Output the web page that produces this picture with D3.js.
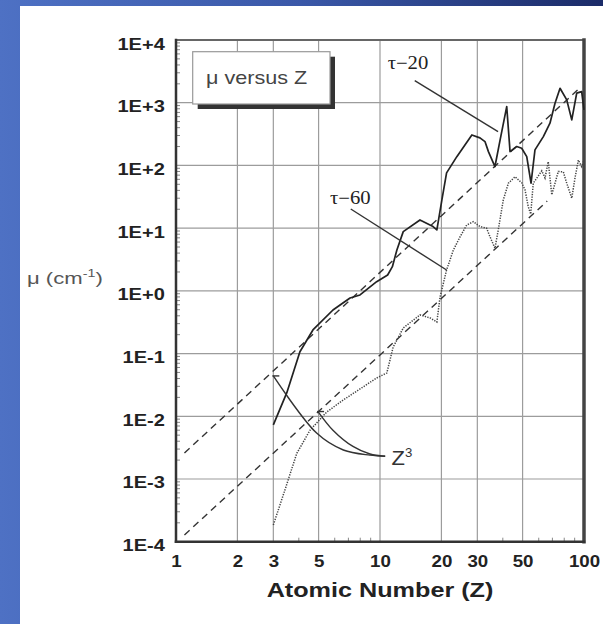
<!DOCTYPE html>
<html>
<head>
<meta charset="utf-8">
<script src="https://cdn.jsdelivr.net/npm/d3@7"></script>
<style>
  body { margin: 0; background: #fff; }
  svg { display: block; }
</style>
</head>
<body>
<svg width="603" height="624"></svg>
<script>
// axis ticks
const xTicks = [1, 2, 3, 5, 10, 20, 30, 50, 100];
const yTicks = [1e-4, 1e-3, 1e-2, 1e-1, 1e0, 1e1, 1e2, 1e3, 1e4];
const yTickLabels = ["1E-4", "1E-3", "1E-2", "1E-1", "1E+0", "1E+1", "1E+2", "1E+3", "1E+4"];

// tau-20 curve (solid)
const tau20Z = [3, 3.49, 4.05, 4.69, 5.88, 7.13, 7.98, 9.63, 10.9, 11.5,
  12.1, 13.0, 15.7, 18.2, 19.0, 20.1, 21.2, 23.8, 28.2, 30.9,
  32.7, 34.0, 36.6, 38.8, 41.8, 43.4, 46.8, 49.5, 52.4, 55.0,
  57.5, 63.2, 68.1, 72.1, 76.3, 82.3, 87.1, 92.1, 97.4, 100];
const tau20Mu = [7.3e-3, 0.0236, 0.107, 0.238, 0.495, 0.77, 0.86, 1.40, 1.79, 2.43,
  4.49, 8.8, 13.5, 10.6, 9.4, 28, 76, 138, 306, 275,
  240, 166, 96, 255, 867, 166, 200, 188, 138, 52,
  177, 288, 471, 982, 1700, 1109, 532, 1419, 1503, 768];

// tau-60 curve (dotted)
const tau60Z = [3, 3.42, 3.91, 4.54, 5.48, 6.61, 9.63, 10.8, 11.6, 13.0,
  15.7, 17.6, 19.0, 19.7, 21.2, 22.9, 24.7, 26.6, 28.7, 30.9,
  33.3, 34.6, 36.6, 38.0, 40.2, 42.6, 45.9, 49.5, 51.4, 53.3,
  54.8, 56.4, 62.1, 64.4, 66.8, 69.5, 72.1, 74.8, 79.2, 82.3,
  87.1, 90.3, 93.8, 97.4, 100];
const tau60Mu = [1.85e-4, 6.7e-4, 2.57e-3, 6.0e-3, 0.0117, 0.0182, 0.0408, 0.049, 0.127, 0.256,
  0.413, 0.37, 0.319, 0.80, 2.15, 4.49, 7.3, 11.2, 12.7, 10.6,
  10.0, 7.3, 4.78, 9.4, 28, 52, 66, 53, 40.6, 22,
  16.8, 52, 82, 63, 115, 34, 52, 80, 79, 52,
  30, 62.5, 122, 96, 122];

// Z^3 reference lines (end points)
const z3UpperZ = [1.1, 95];
const z3UpperMu = [2.6e-3, 1.7e3];
const z3LowerZ = [1.1, 66];
const z3LowerMu = [1.28e-4, 27];

// leader lines for the labels
const leadTau20 = [[14.8, 2250], [37.9, 346]];
const leadTau60 = [[7.19, 20.2], [21.2, 2.15]];
const leadZ3a = [[3, 0.044], [4.89, 5.4e-3], [6.61, 2.9e-3], [8.93, 2.4e-3], [10.6, 2.3e-3]];
const leadZ3b = [[4.97, 0.0119], [5.88, 6.0e-3], [7.37, 3.3e-3], [8.93, 2.5e-3], [10.6, 2.3e-3]];

const W = 603, H = 624;
const svg = d3.select("svg");
const sans = "Arial, 'Liberation Sans', sans-serif";
const serif = "'Times New Roman', 'Liberation Serif', serif";

// background
const defs = svg.append("defs");
const grad = defs.append("linearGradient").attr("id", "bg")
  .attr("x1", "0").attr("y1", "0").attr("x2", "1").attr("y2", "0");
grad.append("stop").attr("offset", "0").attr("stop-color", "#4e71c4");
grad.append("stop").attr("offset", "0.5").attr("stop-color", "#3a58a8");
grad.append("stop").attr("offset", "1").attr("stop-color", "#1b2b68");
svg.append("rect").attr("width", W).attr("height", H).attr("fill", "url(#bg)");
svg.append("rect").attr("x", 20).attr("y", 6).attr("width", W - 20).attr("height", H - 6).attr("fill", "#fff");

const x = d3.scaleLog().domain([1, 100]).range([176, 584]);
const y = d3.scaleLog().domain([1e-4, 1e4]).range([541.7, 40]);

function label(g, px, py, str, size, family, opts) {
  opts = opts || {};
  return g.append("text")
    .attr("transform", `translate(${px},${py}) scale(${opts.sx || 1.2},1)`)
    .attr("font-family", family)
    .attr("font-size", size)
    .attr("font-weight", opts.weight || "normal")
    .attr("text-anchor", opts.anchor || "start")
    .attr("fill", opts.fill || "#222")
    .text(str);
}

// grid lines
const grid = svg.append("g");
grid.selectAll(".gx").data(xTicks.slice(1, -1)).join("line")
  .attr("x1", d => x(d)).attr("x2", d => x(d))
  .attr("y1", y(1e4)).attr("y2", y(1e-4))
  .attr("stroke", "#9c9c9c").attr("stroke-width", 1.2);
grid.selectAll(".gy").data(yTicks.slice(1, -1)).join("line")
  .attr("x1", x(1)).attr("x2", x(100))
  .attr("y1", d => y(d)).attr("y2", d => y(d))
  .attr("stroke", "#9c9c9c").attr("stroke-width", 1.2);

// minor ticks
const yMinor = [];
for (let e = -4; e < 4; e++) for (let k = 2; k <= 9; k++) yMinor.push(k * Math.pow(10, e));
grid.selectAll(".my").data(yMinor).join("line")
  .attr("x1", x(1)).attr("x2", x(1) + 4)
  .attr("y1", d => y(d)).attr("y2", d => y(d))
  .attr("stroke", "#888").attr("stroke-width", 1);
const xMinor = [4, 6, 7, 8, 9, 40, 60, 70, 80, 90];
grid.selectAll(".mx").data(xMinor).join("line")
  .attr("x1", d => x(d)).attr("x2", d => x(d))
  .attr("y1", y(1e-4)).attr("y2", y(1e-4) - 4)
  .attr("stroke", "#888").attr("stroke-width", 1);

// axes
const yAxis = svg.append("g").attr("transform", `translate(${x(1)},0)`)
  .call(d3.axisLeft(y).tickValues(yTicks).tickFormat((d, i) => yTickLabels[i]).tickSize(0));
yAxis.select(".domain").remove();
yAxis.selectAll("text")
  .attr("x", -9).attr("y", 9).attr("dy", null)
  .attr("transform", "scale(1.25,1)")
  .attr("font-family", sans).attr("font-size", 16).attr("font-weight", "bold").attr("fill", "#222");

const xAxis = svg.append("g").attr("transform", `translate(0,${y(1e-4)})`)
  .call(d3.axisBottom(x).tickValues(xTicks).tickFormat(d3.format("d")).tickSize(0));
xAxis.select(".domain").remove();
xAxis.selectAll("text")
  .attr("y", 25).attr("dy", null)
  .attr("transform", "scale(1.1,1)")
  .attr("font-family", sans).attr("font-size", 17).attr("font-weight", "bold").attr("fill", "#222");

// frame
const frame = svg.append("g").attr("stroke-linecap", "square");
frame.append("line").attr("x1", x(1)).attr("x2", x(100)).attr("y1", y(1e4)).attr("y2", y(1e4))
  .attr("stroke", "#666").attr("stroke-width", 2);
frame.append("line").attr("x1", x(100)).attr("x2", x(100)).attr("y1", y(1e4)).attr("y2", y(1e-4))
  .attr("stroke", "#444").attr("stroke-width", 3.5);
frame.append("line").attr("x1", x(1)).attr("x2", x(1)).attr("y1", y(1e4)).attr("y2", y(1e-4))
  .attr("stroke", "#333").attr("stroke-width", 2.5);
frame.append("line").attr("x1", x(1)).attr("x2", x(100)).attr("y1", y(1e-4)).attr("y2", y(1e-4))
  .attr("stroke", "#333").attr("stroke-width", 2.5);

// series
const line = d3.line().x(d => x(d[0])).y(d => y(d[1]));
const smooth = d3.line().x(d => x(d[0])).y(d => y(d[1])).curve(d3.curveCatmullRom);
const plot = svg.append("g").attr("fill", "none");

plot.append("path").datum(d3.zip(z3UpperZ, z3UpperMu)).attr("d", line)
  .attr("stroke", "#333").attr("stroke-width", 1.4).attr("stroke-dasharray", "7,5");
plot.append("path").datum(d3.zip(z3LowerZ, z3LowerMu)).attr("d", line)
  .attr("stroke", "#333").attr("stroke-width", 1.4).attr("stroke-dasharray", "7,5");

plot.append("path").datum(d3.zip(tau60Z, tau60Mu)).attr("d", line)
  .attr("stroke", "#444").attr("stroke-width", 1.5).attr("stroke-dasharray", "1.3,1.3");
plot.append("path").datum(d3.zip(tau20Z, tau20Mu)).attr("d", line)
  .attr("stroke", "#222").attr("stroke-width", 1.7).attr("stroke-linejoin", "round");

// leaders
plot.append("path").datum(leadTau20).attr("d", line).attr("stroke", "#333").attr("stroke-width", 1.4);
plot.append("path").datum(leadTau60).attr("d", line).attr("stroke", "#333").attr("stroke-width", 1.4);
plot.append("path").datum(leadZ3a).attr("d", smooth).attr("stroke", "#333").attr("stroke-width", 1.4);
plot.append("path").datum(leadZ3b).attr("d", smooth).attr("stroke", "#333").attr("stroke-width", 1.4);
[leadZ3a[0], leadZ3b[0]].forEach(p => {
  plot.append("line").attr("x1", x(p[0]) - 1).attr("x2", x(p[0]) + 6)
    .attr("y1", y(p[1])).attr("y2", y(p[1])).attr("stroke", "#333").attr("stroke-width", 1.4);
});

// annotations
const ann = svg.append("g");
label(ann, x(10.9), y(3460), "τ−20", 18, serif, { sx: 1.15 });
label(ann, x(5.69), y(24.3), "τ−60", 18, serif, { sx: 1.15 });
const z3 = label(ann, x(11.4), y(1.67e-3), "Z", 20, sans, { sx: 1.1, fill: "#333" });
z3.append("tspan").attr("dy", -8).attr("font-size", 12).text("3");

// legend box
svg.append("rect").attr("x", 197.7).attr("y", 56.7).attr("width", 137.3).attr("height", 52.3).attr("fill", "#333");
svg.append("rect").attr("x", 192.7).attr("y", 51.7).attr("width", 137.3).attr("height", 52.3)
  .attr("fill", "#fff").attr("stroke", "#999").attr("stroke-width", 1.2);
label(svg, 206, 83.5, "μ versus Z", 18, sans, { fill: "#444" });

// axis titles
label(svg, 380, 597, "Atomic Number (Z)", 21, sans, { anchor: "middle", weight: "bold" });
const yt = label(svg, 27, 284, "μ (cm", 17, sans, { sx: 1.3, fill: "#555" });
yt.append("tspan").attr("dy", -7).attr("font-size", 11).text("-1");
yt.append("tspan").attr("dy", 7).text(")");
</script>
</body>
</html>
